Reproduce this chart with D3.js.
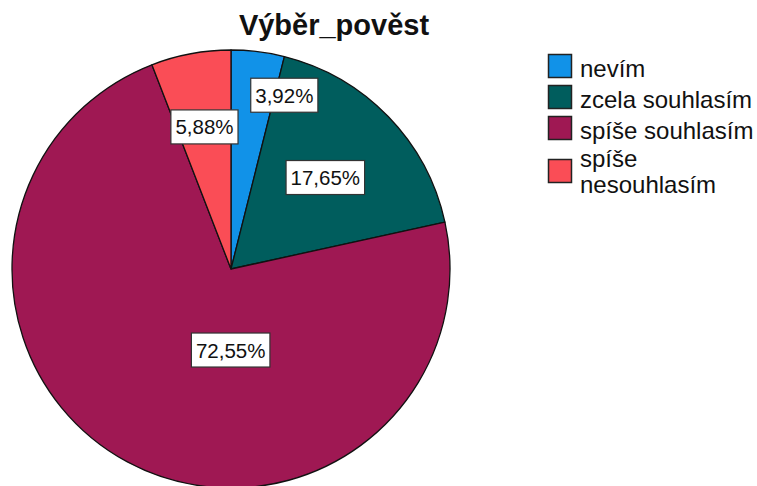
<!DOCTYPE html>
<html>
<head>
<meta charset="utf-8">
<script src="https://cdn.jsdelivr.net/npm/d3@7"></script>
<style>
  html, body { margin: 0; padding: 0; background: #fff; }
  svg { display: block; }
</style>
</head>
<body>
<div id="chart"></div>
<script>
// Výběr_pověst — koláčový graf

const TITLE      = 'Výběr_pověst';
const CATEGORIES = ['nevím', 'zcela souhlasím', 'spíše souhlasím', 'spíše nesouhlasím'];
const LEGEND_TXT = [['nevím'], ['zcela souhlasím'], ['spíše souhlasím'], ['spíše', 'nesouhlasím']];
const PERCENTS   = [3.92, 17.65, 72.55, 5.88];
const COLORS     = ['#1192e8', '#005d5d', '#9f1853', '#fa4d56'];

// label placement: fraction of radius, angle shift (deg) from slice middle
const LABEL_FRAC  = [0.83, 0.60, 0.37, 0.66];
const LABEL_SHIFT = [10, 0, -28, 0];

const FONT = "'Liberation Sans', Arial, sans-serif";

const W = 757, H = 486;
const cx = 231, cy = 269, R = 219;

const svg = d3.select('#chart').append('svg')
  .attr('width', W).attr('height', H)
  .attr('viewBox', `0 0 ${W} ${H}`);

// Title
svg.append('text')
  .attr('x', 334).attr('y', 35)
  .attr('text-anchor', 'middle')
  .attr('font-family', FONT)
  .attr('font-size', '29px')
  .attr('font-weight', 'bold')
  .attr('fill', '#111')
  .text(TITLE);

const data = CATEGORIES.map((c, i) => ({ cat: c, value: PERCENTS[i], i }));

const pie = d3.pie().value(d => d.value).sort(null);
const arc = d3.arc().innerRadius(0).outerRadius(R);

const g = svg.append('g').attr('transform', `translate(${cx},${cy})`);
const arcs = pie(data);

g.selectAll('path.slice')
  .data(arcs).enter()
  .append('path')
  .attr('class', 'slice')
  .attr('d', arc)
  .attr('fill', d => COLORS[d.data.i])
  .attr('stroke', '#111')
  .attr('stroke-width', 1.3)
  .attr('stroke-linejoin', 'round');

// Percentage labels
const fmt = v => v.toFixed(2).replace('.', ',') + '%';

arcs.forEach(d => {
  const i = d.data.i;
  const rr = R * LABEL_FRAC[i];
  const sh = LABEL_SHIFT[i] * Math.PI / 180;
  const p = d3.arc().innerRadius(rr).outerRadius(rr)
    .centroid({ startAngle: d.startAngle + sh, endAngle: d.endAngle + sh });

  const lg = g.append('g').attr('transform', `translate(${p[0]},${p[1]})`);
  const box = lg.append('rect');
  const t = lg.append('text')
    .attr('text-anchor', 'middle')
    .attr('y', 7.5)
    .attr('font-family', FONT)
    .attr('font-size', '20.5px')
    .attr('fill', '#111')
    .text(fmt(d.data.value));
  const tw = t.node().getComputedTextLength();
  const bw = tw + 9, bh = 34;
  box.attr('x', -bw / 2).attr('y', -bh / 2)
    .attr('width', bw).attr('height', bh)
    .attr('fill', '#fff')
    .attr('stroke', '#333')
    .attr('stroke-width', 1.2);
});

// Legend
const legend = svg.append('g').attr('transform', 'translate(548,0)');
const SQ = 23;
let base = 77;
LEGEND_TXT.forEach((lines, i) => {
  const lineH = 26;
  const first = base;
  const lastB = base + (lines.length - 1) * lineH;
  const mid = lines.length === 1 ? base - 11 : (first + lastB) / 2 - 9;
  legend.append('rect')
    .attr('x', 0.5).attr('y', mid - SQ / 2)
    .attr('width', SQ).attr('height', SQ)
    .attr('fill', COLORS[i])
    .attr('stroke', '#222')
    .attr('stroke-width', 1.5);
  lines.forEach((ln, j) => {
    legend.append('text')
      .attr('x', 32).attr('y', base + j * lineH)
      .attr('font-family', FONT)
      .attr('font-size', '24px')
      .attr('fill', '#111')
      .text(ln);
  });
  base = lastB + (i === 2 ? 28 : 31);
});
</script>
</body>
</html>
